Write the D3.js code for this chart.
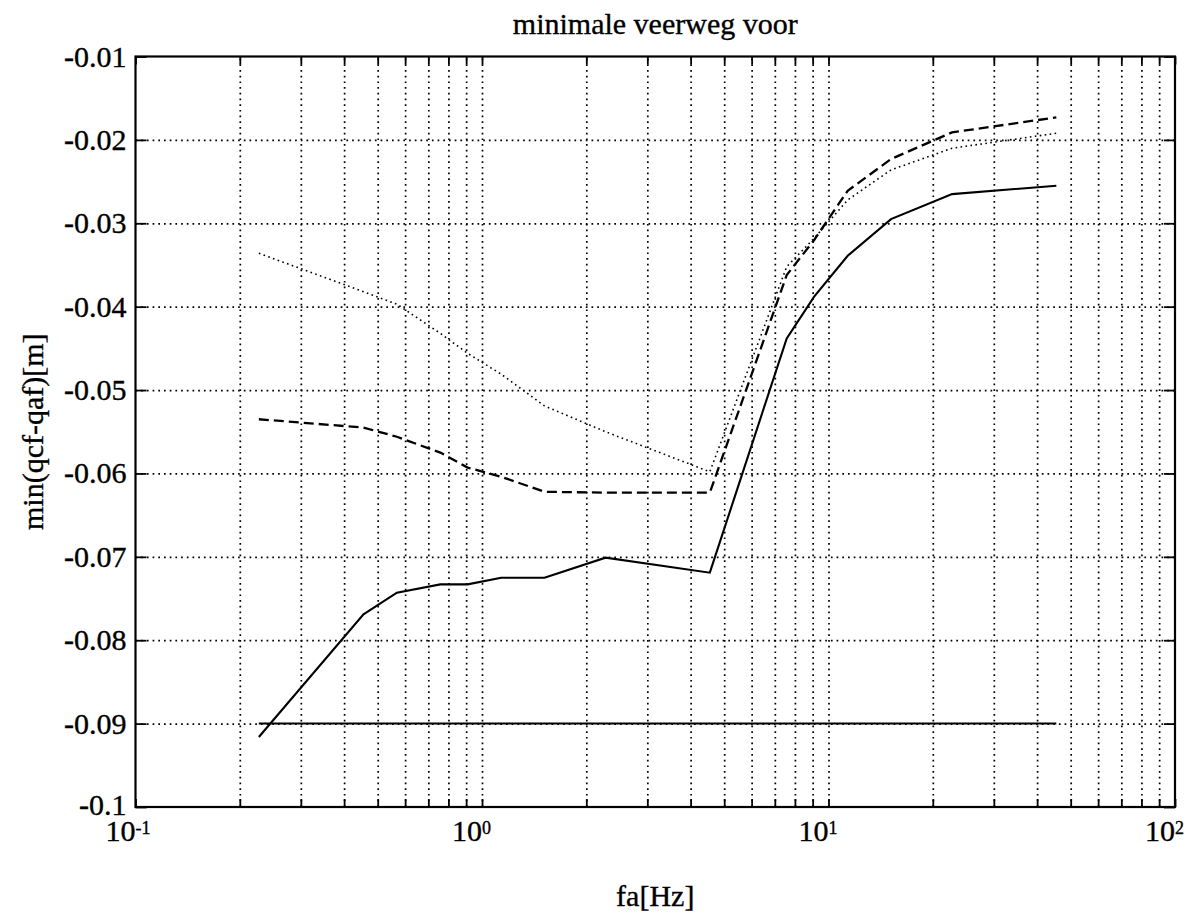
<!DOCTYPE html>
<html>
<head>
<meta charset="utf-8">
<script src="https://cdn.jsdelivr.net/npm/d3@7"></script>
<style>
  html, body { margin: 0; padding: 0; background: #fff; }
  svg { display: block; }
  text { font-family: "Liberation Serif", "Times New Roman", serif; fill: #000; stroke: #000; stroke-width: 0.35px; }
</style>
</head>
<body>
<svg id="chart" width="1198" height="916"></svg>
<script>
// Excitation frequency [Hz]
const freq = [0.227, 0.455, 0.568, 0.758, 0.909, 1.136, 1.515, 2.273, 4.545, 7.576, 9.091, 11.36, 15.15, 22.73, 45.45];
// Minimum spring travel min(qcf-qaf) [m] for three cases
const solidVals  = [-0.0916, -0.0769, -0.0743, -0.0733, -0.0733, -0.0725, -0.0725, -0.0701, -0.0719, -0.0438, -0.0388, -0.0339, -0.0295, -0.0265, -0.0255];
const dashedVals = [-0.0535, -0.0545, -0.0556, -0.0575, -0.0593, -0.0604, -0.0622, -0.0623, -0.0623, -0.0362, -0.0320, -0.0261, -0.0223, -0.0191, -0.0173];
const dottedVals = [-0.0336, -0.0382, -0.0397, -0.0432, -0.0456, -0.0481, -0.0519, -0.0550, -0.0598, -0.0352, -0.0318, -0.0272, -0.0236, -0.0210, -0.0192];
// Travel limit
const limitFreq = [0.227, 45.45];
const limitVals = [-0.09, -0.09];

const xDomain = [0.1, 100];
const yDomain = [-0.1, -0.01];
const yTickValues = [-0.1, -0.09, -0.08, -0.07, -0.06, -0.05, -0.04, -0.03, -0.02, -0.01];
const yTickLabels = ["-0.1", "-0.09", "-0.08", "-0.07", "-0.06", "-0.05", "-0.04", "-0.03", "-0.02", "-0.01"];
const xDecades = [0.1, 1, 10, 100];
const xDecadeExp = ["-1", "0", "1", "2"];

const titleText = "minimale veerweg voor";
const xLabelText = "fa[Hz]";
const yLabelText = "min(qcf-qaf)[m]";

const svg = d3.select("#chart");
const plotLeft = 135.5, plotRight = 1175, plotTop = 56.5, plotBottom = 807;

const x = d3.scaleLog().domain(xDomain).range([plotLeft, plotRight]);
const y = d3.scaleLinear().domain(yDomain).range([plotBottom, plotTop]);

// all ticks of the log axis: 1..9 in each decade
const xAllTicks = [];
for (let d = -1; d < 2; d++) {
  for (let m = 1; m < 10; m++) xAllTicks.push(m * Math.pow(10, d));
}
xAllTicks.push(100);
const xGridTicks = xAllTicks.filter(v => v > 0.1 && v < 100);
const yGridTicks = yTickValues.filter(v => v > -0.1 && v < -0.01);

// grid
const grid = svg.append("g");
grid.append("g")
  .attr("transform", `translate(0,${plotBottom})`)
  .call(d3.axisBottom(x).tickValues(xGridTicks).tickSize(-(plotBottom - plotTop)).tickFormat(""))
  .call(g => g.select(".domain").remove());
grid.append("g")
  .attr("transform", `translate(${plotLeft},0)`)
  .call(d3.axisLeft(y).tickValues(yGridTicks).tickSize(-(plotRight - plotLeft)).tickFormat(""))
  .call(g => g.select(".domain").remove());
grid.selectAll("line")
  .attr("stroke", "#000")
  .attr("stroke-width", 1.7)
  .attr("stroke-dasharray", "1.7,4");

// series
const line = d3.line().x(d => x(d[0])).y(d => y(d[1]));
const plot = svg.append("g").attr("fill", "none").attr("stroke", "#000");

plot.append("path")
  .attr("d", line(limitFreq.map((f, i) => [f, limitVals[i]])))
  .attr("stroke-width", 2);
plot.append("path")
  .attr("d", line(freq.map((f, i) => [f, solidVals[i]])))
  .attr("stroke-width", 2.1);
plot.append("path")
  .attr("d", line(freq.map((f, i) => [f, dashedVals[i]])))
  .attr("stroke-width", 2.3)
  .attr("stroke-dasharray", "10,5");
plot.append("path")
  .attr("d", line(freq.map((f, i) => [f, dottedVals[i]])))
  .attr("stroke-width", 1.6)
  .attr("stroke-dasharray", "1.6,3.4");

// axes ticks pointing inward on all four sides
const axes = svg.append("g");
axes.append("g").attr("transform", `translate(0,${plotBottom})`)
  .call(d3.axisBottom(x).tickValues(xAllTicks).tickSize(-8).tickSizeOuter(0).tickFormat(""));
axes.append("g").attr("transform", `translate(0,${plotTop})`)
  .call(d3.axisTop(x).tickValues(xAllTicks).tickSize(-8).tickSizeOuter(0).tickFormat(""));
axes.append("g").attr("transform", `translate(${plotLeft},0)`)
  .call(d3.axisLeft(y).tickValues(yTickValues).tickSize(-11).tickSizeOuter(0).tickFormat(""));
axes.append("g").attr("transform", `translate(${plotRight},0)`)
  .call(d3.axisRight(y).tickValues(yTickValues).tickSize(-11).tickSizeOuter(0).tickFormat(""));
axes.selectAll(".domain").remove();
axes.selectAll("line").attr("stroke", "#000").attr("stroke-width", 1.8);

// frame
svg.append("rect")
  .attr("x", plotLeft).attr("y", plotTop)
  .attr("width", plotRight - plotLeft).attr("height", plotBottom - plotTop)
  .attr("fill", "none").attr("stroke", "#000").attr("stroke-width", 2.2);

// y tick labels
svg.append("g").selectAll("text")
  .data(yTickValues)
  .join("text")
  .attr("x", plotLeft - 9)
  .attr("y", d => y(d) + (d === -0.1 ? 8 : 10))
  .attr("text-anchor", "end")
  .attr("font-size", 30)
  .text((d, i) => yTickLabels[i]);

// x tick labels: base right-aligned on the tick, exponent as superscript
const xl = svg.append("g");
xDecades.forEach((v, i) => {
  const px = x(v);
  xl.append("text")
    .attr("x", px).attr("y", 841)
    .attr("text-anchor", "end")
    .attr("font-size", 30)
    .text("10");
  xl.append("text")
    .attr("x", px).attr("y", 834)
    .attr("text-anchor", "start")
    .attr("font-size", 18)
    .text(xDecadeExp[i]);
});

// title and axis labels
svg.append("text")
  .attr("x", (plotLeft + plotRight) / 2).attr("y", 33.5)
  .attr("text-anchor", "middle").attr("font-size", 30)
  .text(titleText);
svg.append("text")
  .attr("x", (plotLeft + plotRight) / 2).attr("y", 906)
  .attr("text-anchor", "middle").attr("font-size", 30)
  .text(xLabelText);
svg.append("text")
  .attr("transform", `translate(43,${(plotTop + plotBottom) / 2}) rotate(-90)`)
  .attr("text-anchor", "middle").attr("font-size", 30)
  .text(yLabelText);
</script>
</body>
</html>
